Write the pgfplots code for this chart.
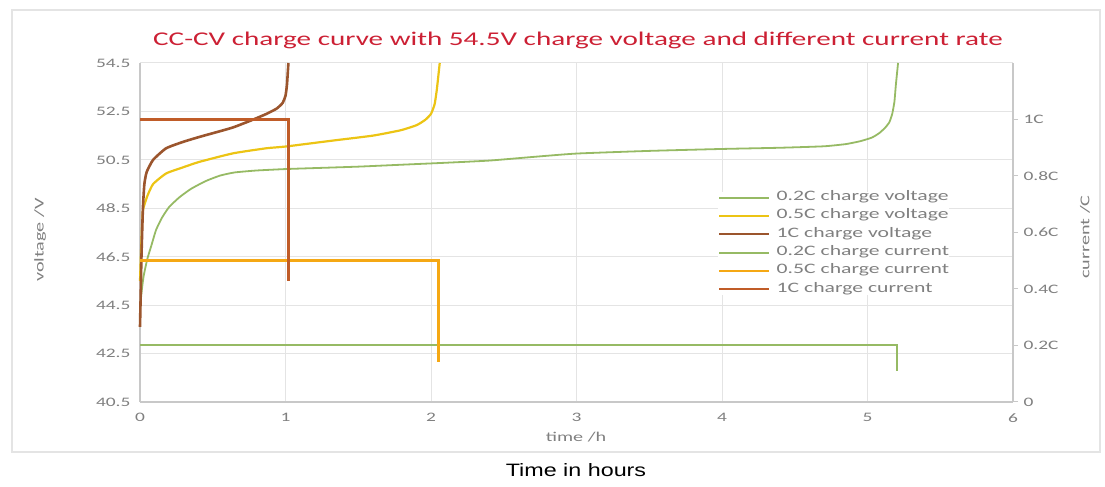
\documentclass[border=0pt]{standalone}
\usepackage{pgfplots}
\pgfplotsset{compat=1.18}
\usepackage{fontspec}
\setmainfont{Carlito}[FakeStretch=1.5]
\newfontfamily\arialfont{Liberation Sans}[FakeStretch=1.3]
\definecolor{cgreen}{RGB}{150,186,100}
\definecolor{cyellow}{RGB}{236,196,20}
\definecolor{corange}{RGB}{245,168,20}
\definecolor{cbrownv}{RGB}{155,85,45}
\definecolor{cbrowni}{RGB}{192,92,40}
\definecolor{ctitle}{RGB}{204,32,52}
\definecolor{ctick}{RGB}{128,128,128}
\definecolor{caxis}{RGB}{200,200,200}
\definecolor{cgrid}{RGB}{228,228,228}
\begin{document}
\begin{tikzpicture}
\path[use as bounding box] (0bp,0bp) rectangle (1105bp,487bp);
\draw[cgrid, line width=1.5bp] (12bp,35bp) rectangle (1100bp,477bp);
\begin{axis}[
  at={(140bp,85bp)}, anchor=south west,
  scale only axis, width=873bp, height=339bp,
  xmin=0, xmax=6, ymin=40.5, ymax=54.5,
  axis x line*=bottom, axis y line*=left,
  axis line style={caxis, line width=1.2bp, -},
  xtick={0,1,2,3,4,5,6}, xticklabels={0,1,2,3,4,5,6},
  ytick={40.5,42.5,44.5,46.5,48.5,50.5,52.5,54.5},
  yticklabels={40.5,42.5,44.5,46.5,48.5,50.5,52.5,54.5},
  major tick length=0pt,
  xmajorgrids, ymajorgrids,
  major grid style={cgrid, line width=1bp},
  tick label style={font=\fontsize{13}{15}\selectfont, text=ctick},
  /pgf/number format/assume math mode=true,
  xticklabel style={yshift=-8bp},
  yticklabel style={xshift=-6bp},
  clip=false,
]
\addplot[cgreen, line width=1.8bp, smooth, tension=0.3] coordinates {
(0,44.3) (0.01,45.0) (0.025,45.7) (0.05,46.4) (0.08,47.0) (0.11,47.6) (0.15,48.1) (0.2,48.55) (0.27,48.95) (0.35,49.3) (0.45,49.62) (0.55,49.85) (0.65,49.98) (0.8,50.06) (1.0,50.12) (1.2,50.16) (1.5,50.22) (1.8,50.3) (2.1,50.38) (2.4,50.47) (2.7,50.62) (3.0,50.76) (3.5,50.87) (4.0,50.95) (4.4,51.0) (4.7,51.06) (4.85,51.15) (4.95,51.27) (5.03,51.42) (5.08,51.6) (5.12,51.82) (5.15,52.05) (5.17,52.4) (5.185,52.9) (5.195,53.6) (5.21,54.5)};
\addplot[cyellow, line width=2.2bp, smooth, tension=0.3] coordinates {
(0,45.5) (0.01,47.2) (0.02,48.4) (0.05,49.0) (0.09,49.5) (0.18,49.94) (0.3,50.2) (0.41,50.42) (0.64,50.77) (0.87,50.98) (1.0,51.05) (1.33,51.3) (1.6,51.5) (1.79,51.72) (1.9,51.93) (1.96,52.15) (2.0,52.4) (2.025,52.8) (2.04,53.4) (2.06,54.5)};
\addplot[cbrownv, line width=2.6bp, smooth, tension=0.3] coordinates {
(0,43.6) (0.005,45.0) (0.01,46.5) (0.02,48.5) (0.03,49.5) (0.046,50.0) (0.09,50.5) (0.18,50.98) (0.3,51.25) (0.41,51.45) (0.53,51.65) (0.64,51.84) (0.76,52.12) (0.87,52.4) (0.94,52.62) (0.98,52.85) (1.0,53.15) (1.01,53.6) (1.02,54.5)};
\end{axis}
\begin{axis}[
  at={(140bp,85bp)}, anchor=south west,
  scale only axis, width=873bp, height=339bp,
  xmin=0, xmax=6, ymin=0, ymax=1.2,
  axis x line=none, axis y line*=right,
  axis line style={caxis, line width=1.2bp, -},
  ytick={0,0.2,0.4,0.6,0.8,1.0},
  yticklabels={0,0.2C,0.4C,0.6C,0.8C,1C},
  tick align=outside, major tick length=5bp,
  major tick style={caxis, line width=1bp},
  tick label style={font=\fontsize{13}{15}\selectfont, text=ctick},
  yticklabel style={xshift=2bp},
  /pgf/number format/assume math mode=true,
  clip=false,
  legend cell align=left,
  legend style={at={(0.662,0.621)}, anchor=north west, draw=none, fill=white,
    inner sep=0pt, column sep=6bp, row sep=6.3bp,
    nodes={inner sep=0pt, text height=9bp, text depth=3bp},
    font=\fontsize{14.5}{16}\selectfont, text=ctick},
  legend image code/.code={\draw[#1] (0bp,0bp) -- (50bp,0bp);},
]
\addlegendimage{cgreen, line width=2bp}
\addlegendentry{0.2C charge voltage}
\addlegendimage{cyellow, line width=2.2bp}
\addlegendentry{0.5C charge voltage}
\addlegendimage{cbrownv, line width=2.4bp}
\addlegendentry{1C charge voltage}
\addplot[cgreen, line width=2bp] coordinates {(0,0.2) (5.2,0.2) (5.2,0.11)};
\addlegendentry{0.2C charge current}
\addplot[corange, line width=2.6bp] coordinates {(0,0.5) (2.05,0.5) (2.05,0.14)};
\addlegendentry{0.5C charge current}
\addplot[cbrowni, line width=2.4bp] coordinates {(0,1.0) (1.02,1.0) (1.02,0.43)};
\addlegendentry{1C charge current}
\end{axis}
\node[text=ctitle, font=\fontsize{19.5}{22}\selectfont] at (578bp,447bp) {CC-CV charge curve with 54.5V charge voltage and different current rate};
\node[text=ctick, font=\fontsize{13.5}{15}\selectfont] at (576bp,50bp) {time /h};
\node[text=ctick, font=\fontsize{13.5}{15}\selectfont, rotate=90] at (40bp,247bp) {voltage /V};
\node[text=ctick, font=\fontsize{13.5}{15}\selectfont, rotate=90] at (1085bp,250bp) {current /C};
\node[text=black, font=\arialfont\fontsize{18}{20}\selectfont] at (576bp,17bp) {Time in hours};
\end{tikzpicture}
\end{document}
